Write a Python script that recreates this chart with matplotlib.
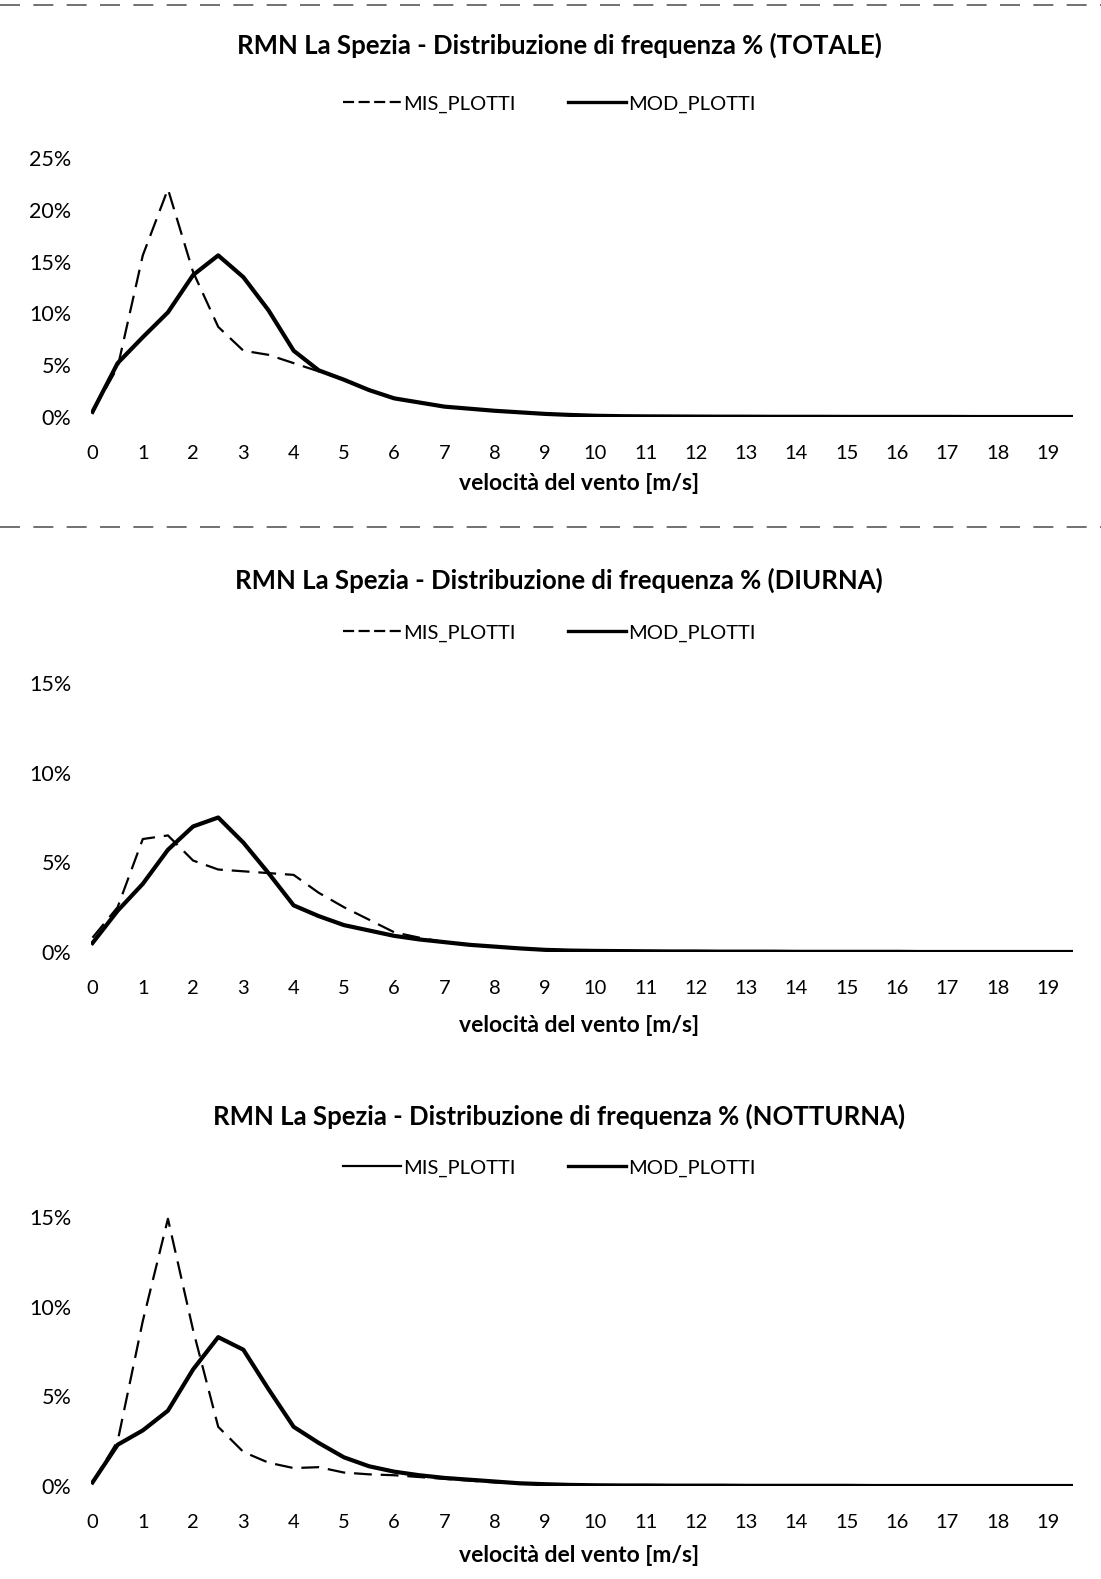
import numpy as np
import matplotlib
matplotlib.use("Agg")
import matplotlib.pyplot as plt
from matplotlib.lines import Line2D
from matplotlib.ticker import FuncFormatter

plt.rcParams['font.family'] = ['Lato', 'DejaVu Sans']

# velocità del vento [m/s], classi ogni 0.5
speed = np.arange(0, 20, 0.5)

# TOTALE (%)
tot_mis = [0.5, 4.8, 15.6, 22.0, 14.0, 8.7, 6.4, 6.0, 5.2, 4.4,
           3.6, 2.6, 1.8, 1.4, 1.0, 0.8, 0.6, 0.45, 0.3, 0.2,
           0.12, 0.08, 0.06, 0.05, 0.04, 0.03, 0.03, 0.02, 0.02, 0.02,
           0.01, 0.01, 0.01, 0.01, 0.01, 0.0, 0.0, 0.0, 0.0, 0.0]
tot_mod = [0.5, 5.2, 7.7, 10.1, 13.7, 15.6, 13.5, 10.3, 6.4, 4.5,
           3.6, 2.6, 1.8, 1.4, 1.0, 0.8, 0.6, 0.45, 0.3, 0.2,
           0.12, 0.08, 0.06, 0.05, 0.04, 0.03, 0.03, 0.02, 0.02, 0.02,
           0.01, 0.01, 0.01, 0.01, 0.01, 0.0, 0.0, 0.0, 0.0, 0.0]

# DIURNA (%)
diu_mis = [0.8, 2.5, 6.3, 6.5, 5.1, 4.6, 4.5, 4.4, 4.3, 3.3,
           2.5, 1.8, 1.1, 0.8, 0.55, 0.4, 0.3, 0.2, 0.12, 0.08,
           0.06, 0.05, 0.04, 0.03, 0.03, 0.02, 0.02, 0.02, 0.01, 0.01,
           0.01, 0.01, 0.01, 0.0, 0.0, 0.0, 0.0, 0.0, 0.0, 0.0]
diu_mod = [0.5, 2.3, 3.8, 5.7, 7.0, 7.5, 6.1, 4.4, 2.6, 2.0,
           1.5, 1.2, 0.9, 0.7, 0.55, 0.4, 0.3, 0.2, 0.12, 0.08,
           0.06, 0.05, 0.04, 0.03, 0.03, 0.02, 0.02, 0.02, 0.01, 0.01,
           0.01, 0.01, 0.01, 0.0, 0.0, 0.0, 0.0, 0.0, 0.0, 0.0]

# NOTTURNA (%)
not_mis = [0.2, 2.5, 9.2, 14.9, 8.7, 3.3, 1.9, 1.3, 1.0, 1.05,
           0.75, 0.65, 0.6, 0.5, 0.4, 0.3, 0.2, 0.15, 0.1, 0.06,
           0.04, 0.03, 0.03, 0.02, 0.02, 0.02, 0.01, 0.01, 0.01, 0.01,
           0.01, 0.0, 0.0, 0.0, 0.0, 0.0, 0.0, 0.0, 0.0, 0.0]
not_mod = [0.2, 2.3, 3.1, 4.2, 6.5, 8.3, 7.6, 5.4, 3.3, 2.4,
           1.6, 1.1, 0.8, 0.6, 0.45, 0.35, 0.25, 0.15, 0.1, 0.06,
           0.04, 0.03, 0.03, 0.02, 0.02, 0.02, 0.01, 0.01, 0.01, 0.01,
           0.01, 0.0, 0.0, 0.0, 0.0, 0.0, 0.0, 0.0, 0.0, 0.0]

titles = ["RMN La Spezia - Distribuzione di frequenza % (TOTALE)",
          "RMN La Spezia - Distribuzione di frequenza % (DIURNA)",
          "RMN La Spezia - Distribuzione di frequenza % (NOTTURNA)"]
ymax = [25, 15, 15]
ystep = [5, 5, 5]

W, H = 1101, 1579
fig = plt.figure(figsize=(W / 100, H / 100), dpi=100)

# pixel layout of each panel: (y of 0%, y of top, title y, legend y, xlabel y)
layout = [(417, 158, 45, 104, 483),
          (952, 683, 580, 633, 1025),
          (1486, 1217, 1116, 1168, 1555)]
left, right = 91, 1073

series = [(tot_mis, tot_mod), (diu_mis, diu_mod), (not_mis, not_mod)]

for i, ((mis, mod), (y0, y1, ty, ly, xly)) in enumerate(zip(series, layout)):
    ax = fig.add_axes([left / W, 1 - y0 / H, (right - left) / W, (y0 - y1) / H])
    ax.plot(speed, mis, color='black', lw=1.6, ls=(0, (8, 4)), label='MIS_PLOTTI')
    ax.plot(speed, mod, color='black', lw=3.0, label='MOD_PLOTTI')
    ax.set_xlim(-0.03, 19.5)
    ax.set_ylim(0, ymax[i])
    ax.set_xticks(range(20))
    ax.set_yticks(np.arange(0, ymax[i] + 0.1, ystep[i]))
    ax.yaxis.set_major_formatter(FuncFormatter(lambda v, p: f"{v:.0f}%"))
    ax.tick_params(length=0, labelsize=14.5)
    ax.tick_params(axis='x', pad=20)
    ax.tick_params(axis='y', labelsize=15.5, pad=14)
    for s in ax.spines.values():
        s.set_visible(False)
    ax.set_facecolor('none')

    fig.text(0.508, 1 - ty / H, titles[i], ha='center', va='center',
             fontsize=18.5, fontweight='bold')
    fig.text(0.526, 1 - xly / H, "velocità del vento [m/s]", ha='center',
             va='center', fontsize=16.5, fontweight='bold')

    if i == 2:
        handles = [Line2D([], [], color='black', lw=1.6),
                   Line2D([], [], color='black', lw=2.4)]
    else:
        handles = [Line2D([], [], color='black', lw=1.6, ls=(0, (5, 2))),
                   Line2D([], [], color='black', lw=2.4)]
    ax.legend(handles, ['MIS_PLOTTI', 'MOD_PLOTTI'], loc='center',
              bbox_to_anchor=(0.499, 1 - ly / H), bbox_transform=fig.transFigure,
              ncol=2, frameon=False, fontsize=14.5, handlelength=2.9,
              handletextpad=0.1, columnspacing=2.6)

# scan separator lines
for yy in (5, 527):
    fig.add_artist(Line2D([0.0, 1.0], [1 - yy / H, 1 - yy / H], color='0.35',
                          lw=1.2, ls=(0, (12, 8)), transform=fig.transFigure))

fig.savefig("out.png", dpi=100)
